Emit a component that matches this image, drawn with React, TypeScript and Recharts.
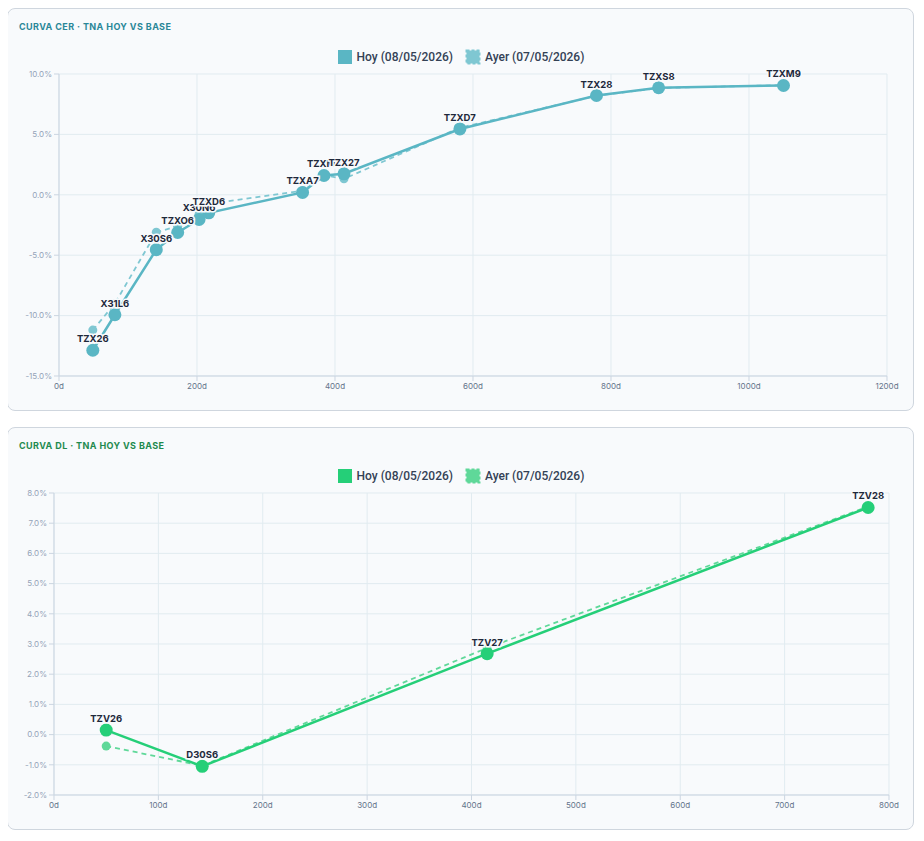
import React from "react";
import {
  LineChart,
  Line,
  CartesianGrid,
  XAxis,
  YAxis,
  LabelList,
} from "recharts";

// Curva CER
const cerTickers = ["TZX26", "X31L6", "X30S6", "TZXO6", "X30N6", "TZXD6", "TZXA7", "TZXM7", "TZX27", "TZXD7", "TZX28", "TZXS8", "TZXM9"];
const cerDays = [49, 81, 141, 172, 203, 217, 353, 384, 413, 581, 779, 869, 1050];
const cerHoy = [-12.87, -9.93, -4.54, -3.12, -2.04, -1.49, 0.2, 1.6, 1.74, 5.45, 8.22, 8.86, 9.05];
const cerAyer = [-11.2, -9.0, -3.1, -2.6, -1.6, -0.75, 0.33, 1.62, 1.32, 5.55, 8.2, 8.84, 9.08];
const cerXTicks = [0, 200, 400, 600, 800, 1000, 1200];
const cerYTicks = [-15, -10, -5, 0, 5, 10];

// Curva DL
const dlTickers = ["TZV26", "D30S6", "TZV27", "TZV28"];
const dlDays = [50, 142, 415, 780];
const dlHoy = [0.15, -1.05, 2.68, 7.52];
const dlAyer = [-0.38, -1.03, 2.87, 7.55];
const dlXTicks = [0, 100, 200, 300, 400, 500, 600, 700, 800];
const dlYTicks = [-2, -1, 0, 1, 2, 3, 4, 5, 6, 7, 8];

const legendHoy = "Hoy (08/05/2026)";
const legendAyer = "Ayer (07/05/2026)";

const buildRows = (tickers: string[], days: number[], hoy: number[], ayer: number[]) =>
  tickers.map((t, i) => ({ ticker: t, days: days[i], hoy: hoy[i], ayer: ayer[i] }));

const cerData = buildRows(cerTickers, cerDays, cerHoy, cerAyer);
const dlData = buildRows(dlTickers, dlDays, dlHoy, dlAyer);

const FONT = "Inter, 'Noto Sans', sans-serif";

const renderLabel = (props: any) => {
  const { x, y, value } = props;
  return (
    <text
      x={x}
      y={y - 8}
      textAnchor="middle"
      fontFamily={FONT}
      fontSize={9.5}
      fontWeight={700}
      fill="#1e293b"
      stroke="#f8fafc"
      strokeWidth={3}
      paintOrder="stroke"
    >
      {value}
    </text>
  );
};

interface CurveCardProps {
  title: string;
  titleColor: string;
  color: string;
  ayerColor: string;
  data: any[];
  xTicks: number[];
  yTicks: number[];
  yAxisWidth: number;
  rightMargin: number;
  top: number;
}

const CurveCard: React.FC<CurveCardProps> = ({
  title,
  titleColor,
  color,
  ayerColor,
  data,
  xTicks,
  yTicks,
  yAxisWidth,
  rightMargin,
  top,
}) => {
  return (
    <div
      style={{
        position: "absolute",
        left: -1,
        top,
        width: 907,
        height: 403,
        boxSizing: "border-box",
        border: "1px solid #cfd6de",
        borderRadius: 8,
        background: "#f8fafc",
        fontFamily: FONT,
      }}
    >
      <div
        style={{
          position: "absolute",
          left: 11,
          top: 12,
          fontSize: 9,
          fontWeight: 700,
          letterSpacing: 0.4,
          color: titleColor,
        }}
      >
        {title}
      </div>
      <div
        style={{
          position: "absolute",
          left: 0,
          right: 0,
          top: 40,
          display: "flex",
          justifyContent: "center",
          alignItems: "center",
          fontSize: 12,
          fontWeight: 500,
          fontFamily: "Roboto, sans-serif",
          color: "#334155",
          gap: 4,
        }}
      >
        <svg width={16} height={16}>
          <rect x={1} y={1} width={14} height={14} fill={color} />
        </svg>
        <span style={{ marginRight: 8 }}>{legendHoy}</span>
        <svg width={16} height={16}>
          <rect x={1.5} y={1.5} width={13} height={13} fill={ayerColor} stroke={ayerColor} strokeWidth={2} strokeDasharray="3 2" />
        </svg>
        <span>{legendAyer}</span>
      </div>
      <div style={{ position: "absolute", left: 0, top: 0 }}>
        <LineChart
          width={905}
          height={401}
          data={data}
          margin={{ top: 65, right: rightMargin, left: 0, bottom: 14 }}
        >
          <CartesianGrid stroke="#e1ebf0" />
          <XAxis
            type="number"
            dataKey="days"
            domain={[xTicks[0], xTicks[xTicks.length - 1]]}
            ticks={xTicks}
            tickFormatter={(v: number) => `${v}d`}
            stroke="#cbd5e1"
            tick={{ fill: "#64748b", fontSize: 8, fontFamily: FONT }}
            tickSize={5}
            height={20}
            interval={0}
          />
          <YAxis
            type="number"
            domain={[yTicks[0], yTicks[yTicks.length - 1]]}
            ticks={yTicks}
            tickFormatter={(v: number) => `${v.toFixed(1)}%`}
            stroke="#cbd5e1"
            tick={{ fill: "#94a3b8", fontSize: 8, fontFamily: FONT }}
            tickSize={5}
            width={yAxisWidth}
            interval={0}
          />
          <Line
            type="linear"
            dataKey="ayer"
            stroke={ayerColor}
            strokeWidth={1.8}
            strokeDasharray="5 4"
            dot={{ r: 4.5, fill: ayerColor, stroke: "none" }}
            activeDot={false}
            isAnimationActive={false}
          />
          <Line
            type="linear"
            dataKey="hoy"
            stroke={color}
            strokeWidth={2.5}
            dot={{ r: 6.5, fill: color, stroke: "none" }}
            activeDot={false}
            isAnimationActive={false}
          >
            <LabelList dataKey="ticker" content={renderLabel} />
          </Line>
        </LineChart>
      </div>
    </div>
  );
};

export default function App() {
  return (
    <div style={{ position: "relative", width: 908, height: 825 }}>
      <CurveCard
        title="CURVA CER · TNA HOY VS BASE"
        titleColor="#2a8798"
        color="#5ab6c4"
        ayerColor="#7fc7d2"
        data={cerData}
        xTicks={cerXTicks}
        yTicks={cerYTicks}
        yAxisWidth={51}
        rightMargin={26}
        top={0}
      />
      <CurveCard
        title="CURVA DL · TNA HOY VS BASE"
        titleColor="#1f8a4f"
        color="#25cf78"
        ayerColor="#5fd899"
        data={dlData}
        xTicks={dlXTicks}
        yTicks={dlYTicks}
        yAxisWidth={46}
        rightMargin={24}
        top={419}
      />
    </div>
  );
}
